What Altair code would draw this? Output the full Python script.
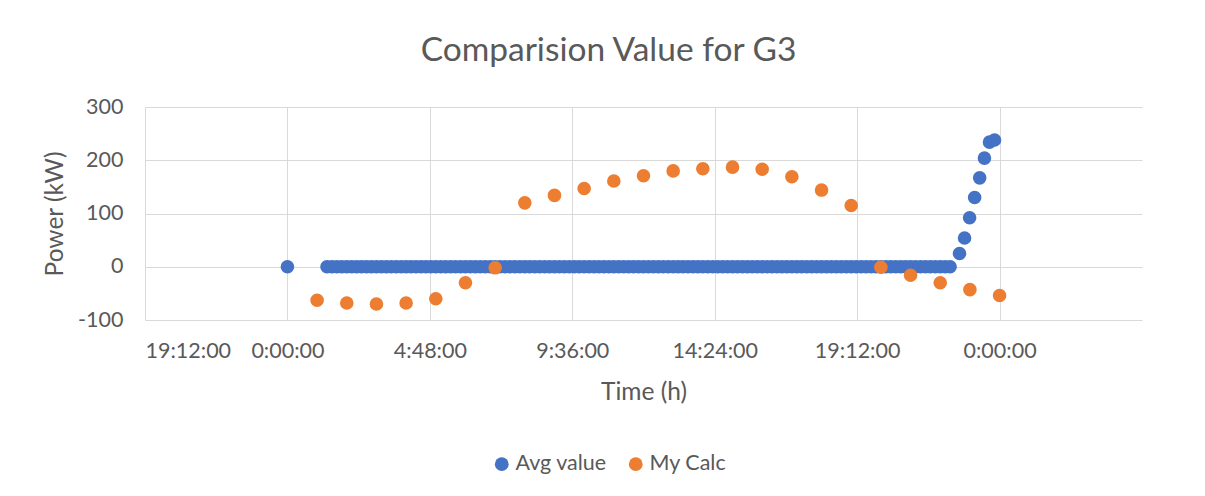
import altair as alt
import pandas as pd

# ---------------- data (hours of day, kW) ----------------
avg_first_hours = [0.0]
avg_first_values = [0]

# dense block of zero readings, every 10 minutes from 1:20 to 22:20
avg_zero_start_min = 80
avg_zero_end_min = 1340
avg_zero_step_min = 10

avg_rise_hours = [22.65, 22.82, 22.99, 23.16, 23.33, 23.49, 23.66, 23.83]
avg_rise_values = [25, 54, 92, 130, 167, 204, 234, 238]

calc_hours = [1, 2, 3, 4, 5, 6, 7, 8, 9, 10, 11, 12,
              13, 14, 15, 16, 17, 18, 19, 20, 21, 22, 23, 24]
calc_values = [-63, -68, -70, -68, -60, -30, -2, 120, 134, 147, 161, 171,
               180, 184, 187, 183, 169, 144, 115, -1, -16, -30, -43, -54]

x_tick_values = [-4.8, 0, 4.8, 9.6, 14.4, 19.2, 24]
y_tick_values = [-100, 0, 100, 200, 300]

series_names = ["Avg value", "My Calc"]
series_colors = ["#4472C4", "#ED7D31"]

# ---------------- table ----------------
zero_hours = [m / 60 for m in range(avg_zero_start_min, avg_zero_end_min + 1, avg_zero_step_min)]
zero_values = [0] * len(zero_hours)

avg_hours = avg_first_hours + zero_hours + avg_rise_hours
avg_values = avg_first_values + zero_values + avg_rise_values

df = pd.DataFrame({
    "hour": avg_hours + calc_hours,
    "power": avg_values + calc_values,
    "series": [series_names[0]] * len(avg_hours) + [series_names[1]] * len(calc_hours),
    "order": list(range(len(avg_hours) + len(calc_hours))),
})

TEXT = "#595959"
GRID = "#D9D9D9"
FONT = "Lato"

hexpr = "(((datum.value % 24) + 24) % 24)"
label_expr = (
    f"floor({hexpr}) + ':' + pad(toString(round(({hexpr} - floor({hexpr})) * 60)), 2, '0', 'left') + ':00'"
)

chart = alt.Chart(df).mark_point(filled=True, opacity=1, size=185).encode(
    x=alt.X(
        "hour:Q",
        scale=alt.Scale(domain=[-4.8, 28.8], nice=False, zero=False),
        axis=alt.Axis(
            title="Time (h)",
            values=x_tick_values,
            labelExpr=label_expr,
            grid=True,
            gridColor=GRID,
            domain=False,
            ticks=False,
            labelPadding=20,
            titlePadding=19,
        ),
    ),
    y=alt.Y(
        "power:Q",
        scale=alt.Scale(domain=[-100, 300], nice=False),
        axis=alt.Axis(
            title="Power (kW)",
            values=y_tick_values,
            labelExpr="toString(datum.value)",
            grid=True,
            gridColor=GRID,
            domain=False,
            ticks=False,
            labelPadding=22,
            titlePadding=10,
        ),
    ),
    color=alt.Color(
        "series:N",
        scale=alt.Scale(domain=series_names, range=series_colors),
        legend=alt.Legend(
            title=None,
            orient="none",
            direction="horizontal",
            legendX=346,
            legendY=346,
            symbolType="circle",
            symbolSize=190,
            symbolStrokeWidth=0,
            labelFont=FONT,
            labelFontSize=21.5,
            labelColor=TEXT,
            labelOffset=3,
            columnPadding=18,
            padding=0,
        ),
    ),
    order=alt.Order("order:Q"),
).properties(
    width=997,
    height=213,
    padding={"left": 137, "top": 99, "right": 50, "bottom": 160},
    autosize=alt.AutoSizeParams(type="none"),
    background="white",
    title=alt.TitleParams(
        "Comparision Value for G3",
        font=FONT,
        fontSize=33.5,
        fontWeight="normal",
        color=TEXT,
        anchor="middle",
        frame="group",
        baseline="alphabetic",
        dx=-35,
        offset=2,
    ),
).configure_axis(
    labelFont=FONT,
    labelFontSize=21.5,
    labelColor=TEXT,
    titleFont=FONT,
    titleFontSize=24.5,
    titleFontWeight="normal",
    titleColor=TEXT,
    gridWidth=1,
).configure_view(stroke=None)

chart.save("out.html", embed_options={"renderer": "svg", "actions": False})
